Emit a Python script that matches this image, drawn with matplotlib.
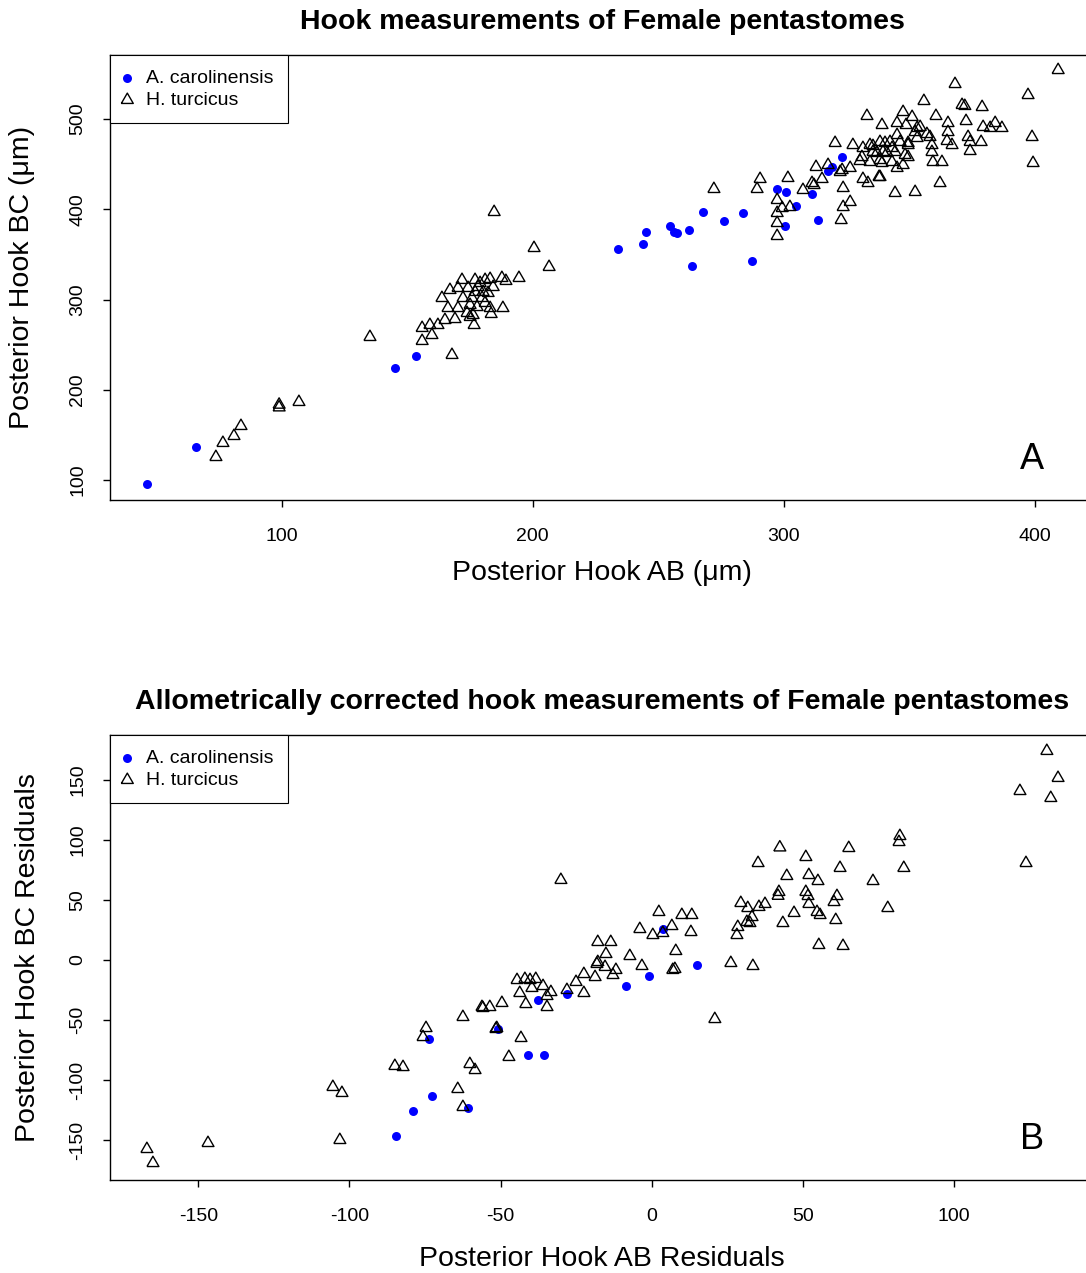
# Hook measurements of female pentastomes, two panels (raw and allometric residuals)
import numpy as np
import matplotlib.pyplot as plt

plt.rcParams['font.family'] = ['Liberation Sans', 'DejaVu Sans']
plt.rcParams['axes.unicode_minus'] = False

# ---- panel A: raw measurements (um) ----
caro_ab = [46.2, 65.8, 145.1, 153.5, 234.0, 243.9, 245.1, 254.7, 256.3, 257.5,
           262.3, 263.5, 267.9, 276.2, 283.8, 287.4, 297.4, 300.9, 300.5, 304.9,
           311.3, 313.7, 317.7, 319.3, 323.3]
caro_bc = [95.6, 136.6, 224.2, 237.5, 356.0, 361.5, 374.8, 381.5, 374.8, 373.7,
           377.1, 337.2, 397.0, 387.0, 395.9, 342.7, 422.5, 419.2, 381.5, 403.7,
           416.9, 388.1, 442.4, 446.9, 457.9]

turc_ab = [
    135.1, 73.7, 76.5, 80.9, 83.7, 98.9, 98.9, 106.8,
    194.5, 187.7, 189.3, 183.0, 181.0, 177.0, 171.8, 167.0, 163.8, 170.2,
    178.2, 184.2, 182.2, 172.2, 175.8, 179.8, 166.2, 170.2, 175.0, 177.8,
    183.0, 188.1, 183.4, 173.8, 176.2, 169.0, 165.0, 162.2, 159.0, 155.9,
    159.8, 155.9, 175.0, 176.6, 167.8, 180.2, 177.0, 184.6, 200.5, 206.5,
    179.0, 174.2, 181.0,
    409.4, 397.4, 368.3, 355.9, 371.1, 372.2, 379.1, 333.2, 347.6, 351.2,
    360.7, 339.2, 345.2, 348.8, 354.4, 365.5, 372.7, 379.5, 384.3, 387.0,
    382.3, 399.0, 399.4, 353.2, 357.1, 358.3, 365.5, 373.5, 374.3, 378.7,
    374.3, 365.1, 367.1, 359.1, 359.1, 359.5, 363.1, 362.3, 352.4, 344.4,
    320.5, 327.6, 331.6, 335.6, 340.4, 343.2, 346.4, 349.6, 337.2, 341.2,
    344.4, 348.4, 330.4, 334.4, 339.2, 343.2, 345.2, 347.6, 326.5, 322.5,
    315.3, 312.9, 317.7, 331.6, 333.6, 338.0, 301.7, 307.7, 311.3, 312.1,
    323.7, 326.5, 323.7, 322.9, 297.4, 299.4, 297.4, 302.5, 297.4, 297.4,
    290.6, 289.4, 272.2, 345.2, 342.4, 338.4, 334.4, 352.4, 353.2, 349.6,
    331.2, 335.6, 339.6, 338.4, 323.3, 338.4, 349.6,
]
turc_bc = [
    258.5, 125.5, 141.1, 148.8, 159.9, 180.5, 183.5, 186.5,
    323.9, 323.9, 320.6, 322.8, 321.7, 321.7, 321.7, 310.6, 301.7, 312.8,
    313.9, 313.9, 307.3, 301.7, 301.7, 301.7, 290.6, 290.6, 294.0, 291.7,
    290.6, 290.6, 284.0, 285.1, 282.9, 278.4, 277.3, 271.8, 271.8, 268.5,
    260.7, 254.1, 280.7, 271.8, 238.6, 308.4, 308.4, 397.0, 357.1, 336.1,
    318.3, 312.8, 296.2,
    554.3, 526.6, 538.8, 520.0, 515.6, 514.5, 513.3, 503.4, 507.8, 502.3,
    503.4, 493.4, 495.6, 493.4, 491.2, 495.6, 497.8, 491.2, 495.6, 490.1,
    490.1, 480.1, 451.3, 490.1, 483.4, 480.1, 485.6, 480.1, 474.6, 474.6,
    464.6, 475.7, 471.2, 471.2, 463.5, 452.4, 452.4, 429.1, 419.2, 418.1,
    473.5, 471.2, 467.9, 470.1, 473.5, 467.9, 474.6, 471.2, 462.4, 462.4,
    463.5, 460.2, 453.5, 452.4, 451.3, 452.4, 445.8, 449.1, 445.8, 441.3,
    433.6, 446.9, 449.1, 433.6, 429.1, 435.8, 434.7, 421.4, 429.1, 426.9,
    423.6, 408.1, 402.5, 388.1, 410.3, 401.4, 395.9, 402.5, 384.8, 370.4,
    433.6, 422.5, 422.5, 482.3, 474.6, 474.6, 471.2, 485.6, 479.0, 473.5,
    457.9, 463.5, 463.5, 454.6, 443.5, 435.8, 457.9,
]

# ---- panel B: allometric residuals ----
caro_res_ab = [-50.9, -41.0, -35.7, -37.7, -28.1, -8.6, -1.0, 14.9, 3.6,
               -73.7, -72.8, -79.0, -84.7, -60.8]
caro_res_bc = [-57.5, -79.2, -79.2, -33.3, -28.3, -21.7, -13.3, -4.2, 25.8,
               -65.8, -113.3, -125.8, -146.7, -123.3]

turc_res_ab = [
    -167.0, -165.0, -146.8, -103.2, -105.5, -102.5, -85.0, -82.3, -74.7, -75.7,
    -62.5, -56.2, -53.6, -49.6, -51.3, -60.2, -58.5, -64.2, -62.5, -47.3,
    -30.1, 2.3, 9.9, 13.2, -4.0, 0.3, 6.6, 12.9, 3.6, -17.9,
    -13.6, -15.2, -17.9, -18.2, -15.5, -11.9, -12.9, -7.3, -3.3, 7.9,
    6.9, 7.6, 26.1, 33.4, 20.8, -22.5, -18.8, -25.1, -28.1, -22.5,
    -44.6, -42.0, -40.3, -38.4, -36.0, -39.7, -33.4, -43.7, -34.7, -41.7,
    -34.7, -55.9, -51.6, -43.3, 29.4, 31.7, 35.4, 37.4, 33.1, 31.4,
    28.4, 28.1, 32.4, 35.1, 42.3, 130.6, 134.3, 121.7, 131.9, 123.7,
    82.0, 81.7, 83.3, 78.0, 73.1, 65.1, 62.2, 50.9, 44.6, 51.9,
    54.9, 42.0, 41.7, 50.9, 51.6, 61.2, 60.2, 51.9, 54.6, 55.6,
    47.0, 60.8, 43.3, 55.2, 63.2,
]
turc_res_bc = [
    -157.5, -169.2, -152.5, -150.0, -105.8, -110.8, -88.3, -89.2, -56.7, -64.2,
    -47.5, -39.2, -39.2, -35.8, -56.7, -86.7, -91.7, -107.5, -122.5, -80.8,
    66.7, 40.0, 37.5, 37.5, 25.8, 20.8, 28.3, 23.3, 22.5, 15.0,
    15.0, 5.0, -1.7, -3.3, -5.8, -8.3, -12.5, 3.3, -5.0, 7.5,
    -8.3, -7.5, -2.5, -5.0, -49.2, -11.7, -14.2, -18.3, -25.0, -27.5,
    -16.7, -15.8, -16.7, -15.8, -21.7, -23.3, -26.7, -27.5, -30.0, -36.7,
    -39.2, -40.0, -57.5, -65.0, 47.5, 43.3, 44.2, 46.7, 35.8, 31.7,
    27.5, 20.8, 30.8, 80.8, 93.8, 174.2, 151.7, 140.8, 135.0, 80.8,
    103.3, 98.3, 76.7, 43.3, 65.8, 93.3, 76.7, 85.8, 70.0, 70.8,
    65.8, 56.7, 53.5, 56.7, 53.3, 53.3, 48.3, 46.7, 40.0, 37.5,
    39.2, 33.3, 30.8, 12.5, 11.7,
]

# R style open triangle (pch = 2)
tri = [(-1, -0.58), (1, -0.58), (0, 1.15), (-1, -0.58)]


def draw_panel(ax, cx, cy, tx, ty, xlim, ylim, xticks, yticks,
               title, xlabel, ylabel, tag, xlab_y, ylab_x):
    ax.scatter(cx, cy, s=42, c='#0000ff', marker='o', linewidths=0,
               label='A. carolinensis', zorder=2)
    ax.scatter(tx, ty, s=98, facecolors='none', edgecolors='black',
               marker=tri, linewidths=1.0, label='H. turcicus', zorder=3)
    ax.set_xlim(*xlim)
    ax.set_ylim(*ylim)
    ax.set_xticks(xticks)
    ax.set_yticks(yticks)
    ax.tick_params(direction='out', length=5, width=1, labelsize=14)
    ax.tick_params(axis='x', pad=15)
    ax.tick_params(axis='y', pad=12)
    plt.setp(ax.get_yticklabels(), rotation=90, va='center')
    for sp in ax.spines.values():
        sp.set_linewidth(1.0)
    ax.set_title(title, fontsize=20.5, fontweight='bold', pad=19)
    ax.set_xlabel(xlabel, fontsize=20.5)
    ax.xaxis.label.set_va('center')
    ax.xaxis.set_label_coords(0.5, xlab_y)
    ax.set_ylabel(ylabel, fontsize=20.5)
    ax.yaxis.label.set_va('center')
    ax.yaxis.set_label_coords(ylab_x, 0.5)
    leg = ax.legend(loc='upper left', bbox_to_anchor=(0, 1), borderaxespad=0,
                    fancybox=False, edgecolor='black', framealpha=1,
                    fontsize=14, handlelength=0.3, handletextpad=0.8,
                    borderpad=0.74, labelspacing=0.23, scatterpoints=1)
    leg.get_frame().set_linewidth(0.8)
    ax.text(0.937, 0.092, tag, transform=ax.transAxes, fontsize=26,
            ha='center', va='center')


fig = plt.figure(figsize=(10.86, 12.73), dpi=100)
ax1 = fig.add_axes([110 / 1086, 1 - 500 / 1273, 984 / 1086, 445 / 1273])
ax2 = fig.add_axes([110 / 1086, 1 - 1180 / 1273, 984 / 1086, 445 / 1273])

draw_panel(ax1, caro_ab, caro_bc, turc_ab, turc_bc,
           (31.5, 423.7), (77.9, 571.0), [100, 200, 300, 400],
           [100, 200, 300, 400, 500],
           'Hook measurements of Female pentastomes',
           'Posterior Hook AB (μm)', 'Posterior Hook BC (μm)', 'A',
           -0.164, -0.089)

draw_panel(ax2, caro_res_ab, caro_res_bc, turc_res_ab, turc_res_bc,
           (-179.2, 146.2), (-183.3, 187.5), [-150, -100, -50, 0, 50, 100],
           [-150, -100, -50, 0, 50, 100, 150],
           'Allometrically corrected hook measurements of Female pentastomes',
           'Posterior Hook AB Residuals', 'Posterior Hook BC Residuals', 'B',
           -0.177, -0.083)

fig.savefig('out.png', dpi=100)
